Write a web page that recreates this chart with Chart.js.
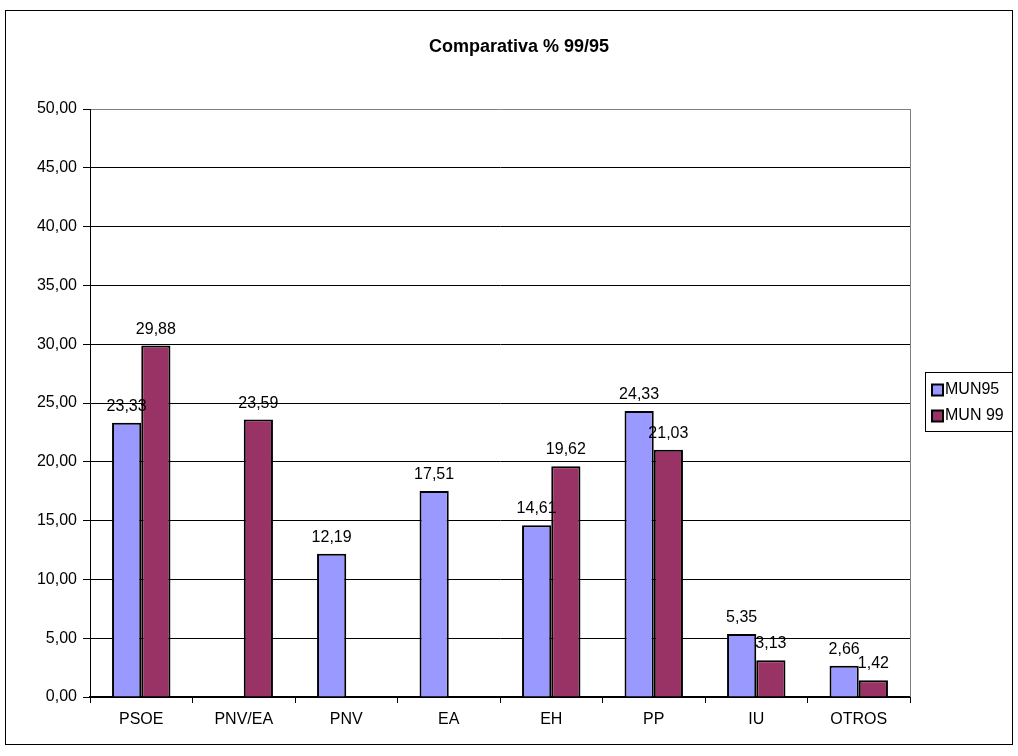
<!DOCTYPE html>
<html>
<head>
<meta charset="utf-8">
<script src="https://cdn.jsdelivr.net/npm/chart.js@4.4.0/dist/chart.umd.min.js"></script>
<style>
  html, body { margin: 0; padding: 0; background: #fff; }
  #wrap { width: 1018px; height: 756px; }
</style>
</head>
<body>
<div id="wrap"><canvas id="c" width="1018" height="756"></canvas></div>
<script>
const categories = ['PSOE', 'PNV/EA', 'PNV', 'EA', 'EH', 'PP', 'IU', 'OTROS'];
const mun95 = [23.33, null, 12.19, 17.51, 14.61, 24.33, 5.35, 2.66];
const mun99 = [29.88, 23.59, null, null, 19.62, 21.03, 3.13, 1.42];
const seriesNames = ['MUN95', 'MUN 99'];
const seriesColors = ['#9999FF', '#993366'];
const chartTitle = 'Comparativa % 99/95';

const FONT = '"Liberation Sans", Arial, sans-serif';
const fmt = v => v.toFixed(2).replace('.', ',');

// frame, title, right plot border, value labels, legend
const decorations = {
  id: 'decorations',
  afterDraw(chart) {
    const ctx = chart.ctx;
    const area = chart.chartArea;
    ctx.save();

    ctx.strokeStyle = '#000';
    ctx.lineWidth = 1;
    ctx.strokeRect(5.5, 10.5, 1007, 734);

    ctx.fillStyle = '#000';
    ctx.font = 'bold 18px ' + FONT;
    ctx.textAlign = 'center';
    ctx.textBaseline = 'middle';
    ctx.fillText(chartTitle, 519, 47);

    ctx.strokeStyle = '#808080';
    ctx.beginPath();
    ctx.moveTo(Math.round(area.right) + 0.5, area.top);
    ctx.lineTo(Math.round(area.right) + 0.5, area.bottom);
    ctx.stroke();

    ctx.font = '16px ' + FONT;
    ctx.fillStyle = '#000';
    ctx.textBaseline = 'alphabetic';
    chart.data.datasets.forEach((ds, i) => {
      const meta = chart.getDatasetMeta(i);
      meta.data.forEach((bar, j) => {
        const v = ds.data[j];
        if (v == null) return;
        ctx.fillText(fmt(v), bar.x, bar.y - 12);
      });
    });

    ctx.strokeStyle = '#000';
    ctx.strokeRect(925.5, 372.5, 87, 59);
    ctx.textAlign = 'left';
    ctx.textBaseline = 'middle';
    seriesNames.forEach((name, i) => {
      const y = 390 + i * 26;
      ctx.fillStyle = seriesColors[i];
      ctx.fillRect(932, y - 5.5, 11, 11);
      ctx.lineWidth = 2;
      ctx.strokeRect(932, y - 5.5, 11, 11);
      ctx.fillStyle = '#000';
      ctx.fillText(name, 945, y);
    });

    ctx.restore();
  }
};

new Chart(document.getElementById('c'), {
  type: 'bar',
  data: {
    labels: categories,
    datasets: [
      { label: seriesNames[0], data: mun95, backgroundColor: seriesColors[0], borderColor: '#000', borderWidth: 2 },
      { label: seriesNames[1], data: mun99, backgroundColor: seriesColors[1], borderColor: '#000', borderWidth: 2 }
    ]
  },
  options: {
    responsive: false,
    animation: false,
    categoryPercentage: 0.57,
    barPercentage: 1,
    layout: { padding: { left: 0, top: 109, right: 108, bottom: 19 } },
    plugins: {
      legend: { display: false },
      title: { display: false },
      tooltip: { enabled: false }
    },
    scales: {
      x: {
        grid: { offset: true, drawOnChartArea: false, color: '#000', tickLength: 6 },
        border: { color: '#000', width: 2 },
        ticks: { color: '#000', font: { family: FONT, size: 16 }, padding: 7 },
        afterFit(scale) { scale.height = 40; }
      },
      y: {
        min: 0,
        max: 50,
        grid: {
          color: c => (c.tick && c.tick.value === 50 ? '#808080' : '#000'),
          tickColor: '#000',
          tickLength: 7
        },
        border: { color: '#000', width: 1 },
        ticks: { stepSize: 5, color: '#000', font: { family: FONT, size: 16 }, padding: 6, callback: v => fmt(v) },
        afterFit(scale) { scale.width = 90; }
      }
    }
  },
  plugins: [decorations]
});
</script>
</body>
</html>
